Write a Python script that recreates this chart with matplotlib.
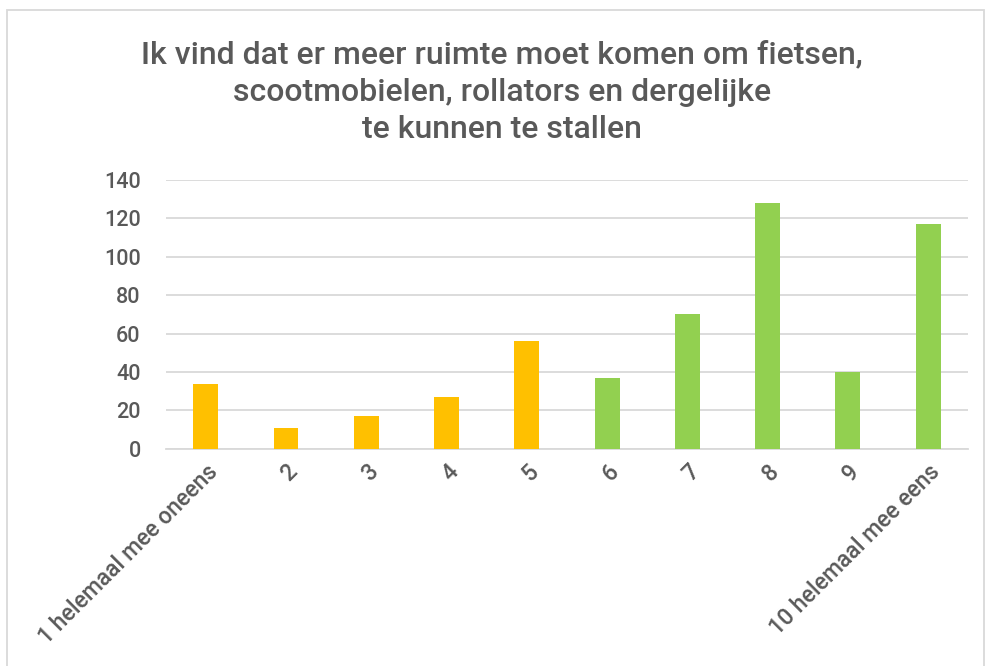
import matplotlib.pyplot as plt
import matplotlib.patches as mpatches

# Data
categorieen = ["1 helemaal mee oneens", "2", "3", "4", "5", "6", "7", "8", "9", "10 helemaal mee eens"]
aantallen = [34, 11, 17, 27, 56, 37, 70, 128, 40, 117]
kleuren = ["#FFC000"] * 5 + ["#92D050"] * 5
y_ticks = [0, 20, 40, 60, 80, 100, 120, 140]

titel = ("Ik vind dat er meer ruimte moet komen om fietsen,\n"
         "scootmobielen, rollators en dergelijke\n"
         "te kunnen te stallen")

plt.rcParams['font.family'] = ['Roboto', 'DejaVu Sans']
tekstkleur = "#595959"

fig = plt.figure(figsize=(9.86, 6.66), dpi=100)
ax = fig.add_axes([0.168, 0.326, 0.814, 0.404])

x = range(len(categorieen))
ax.bar(x, aantallen, width=0.31, color=kleuren, zorder=3)

ax.set_xlim(-0.5, len(categorieen) - 0.5)
ax.set_ylim(0, 140)
ax.set_yticks(y_ticks)
ax.yaxis.grid(True, color="#d9d9d9", linewidth=1.3, zorder=0)
ax.tick_params(axis='y', length=0, labelsize=15.5, labelcolor=tekstkleur, pad=18)
ax.tick_params(axis='x', length=0, labelsize=16.5, labelcolor=tekstkleur, pad=8)
ax.set_xticks(list(x))
ax.set_xticklabels(categorieen, rotation=45, ha='right', rotation_mode='anchor')
for lbl in ax.get_xticklabels() + ax.get_yticklabels():
    lbl.set_fontweight('medium')

for s in ['top', 'right', 'left']:
    ax.spines[s].set_visible(False)
ax.spines['bottom'].set_color("#d9d9d9")
ax.spines['bottom'].set_linewidth(1.3)

fig.text(0.509, 0.94, titel, ha='center', va='top', fontsize=23,
         color=tekstkleur, fontweight='medium', linespacing=1.38)

# kader rond de grafiek
kader = mpatches.Rectangle((7 / 986, -0.05), 977 / 986, 1 - 10 / 666 + 0.05,
                           transform=fig.transFigure, fill=False,
                           edgecolor="#d9d9d9", linewidth=1.3)
fig.patches.append(kader)

fig.savefig("out.png", dpi=100)
